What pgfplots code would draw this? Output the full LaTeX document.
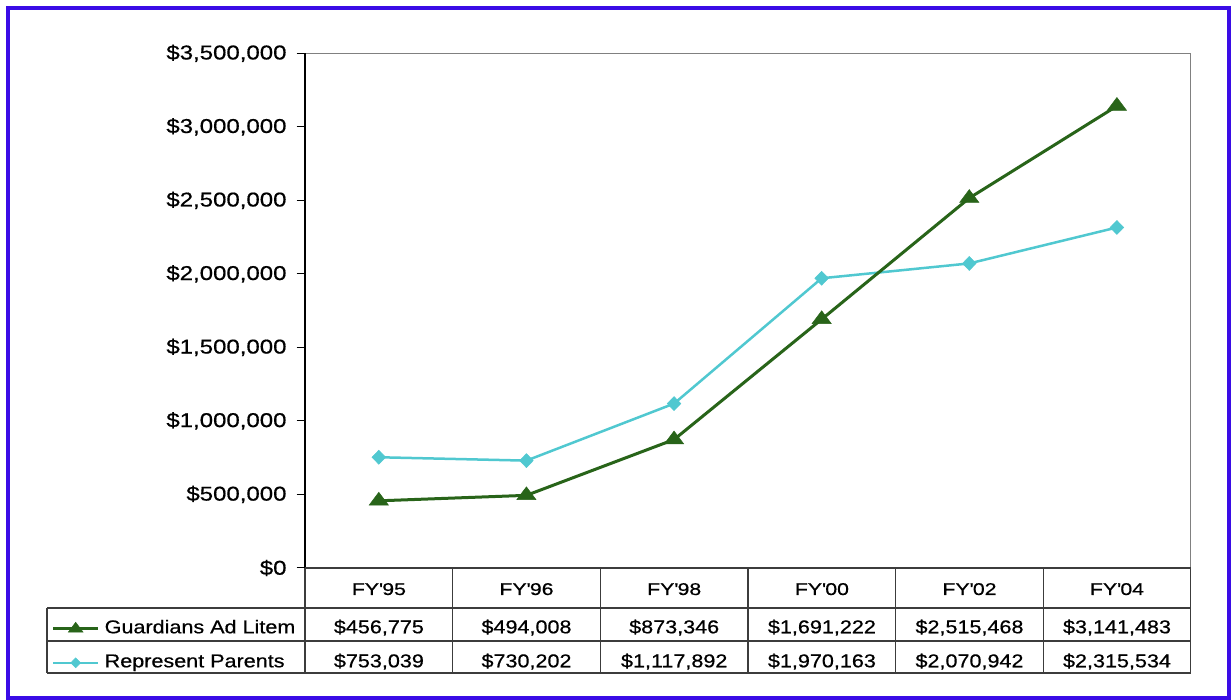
\documentclass[border=0pt]{standalone}
\usepackage{pgfplots}
\pgfplotsset{compat=1.18}
\usepackage{fontspec}
\setmainfont{Liberation Sans}
\newfontfamily\tickfont[FakeStretch=1.2,FakeBold=0.6]{Liberation Sans}
\newfontfamily\tabfont[FakeStretch=1.16,FakeBold=0.6]{Liberation Sans}
\newfontfamily\headfont[FakeStretch=1.25,FakeBold=0.6]{Liberation Sans}
\definecolor{gdark}{RGB}{40,100,25}
\definecolor{cyanl}{RGB}{80,200,208}
\definecolor{bordercol}{RGB}{58,12,230}
\definecolor{tabline}{RGB}{60,60,60}

\begin{document}
\begin{tikzpicture}[x=1pt,y=1pt]
\path[use as bounding box] (0,0) rectangle (1231,700);
\fill[white] (0,0) rectangle (1231,700);
\begin{axis}[
 at={(305pt,132pt)}, anchor=south west, scale only axis,
 width=885.7pt, height=514.7pt,
 xmin=-0.5, xmax=5.5, ymin=0, ymax=3500000,
 scaled y ticks=false,
 xtick=\empty,
 ytick={0,500000,1000000,1500000,2000000,2500000,3000000,3500000},
 yticklabels={{\$0},{\$500,000},{\$1,000,000},{\$1,500,000},{\$2,000,000},{\$2,500,000},{\$3,000,000},{\$3,500,000}},
 ytick pos=left,
 tick align=outside, major tick length=8.3pt,
 ytick style={black, line width=1pt},
 axis line style={draw=gray, line width=1.2pt},
 yticklabel style={font=\tickfont\fontsize{20}{24}\selectfont, inner sep=0pt, xshift=-10pt},
 clip=false,
 reverse legend,
 legend style={at={(-0.2860,-0.0997)}, anchor=north west, draw=none, fill=none,
   inner sep=0pt, outer sep=0pt, row sep=15pt, column sep=5pt,
   font=\tabfont\fontsize{18.6}{22}\selectfont,
   nodes={inner sep=0pt, outer sep=0pt, text height=14pt, text depth=5pt},
   cells={anchor=west}},
 legend image code/.code={\draw[mark repeat=2, mark phase=2, #1] plot coordinates {(0pt,0pt) (22.5pt,0pt) (45pt,0pt)};},
]
\addplot[cyanl, line width=2.5pt, mark=diamond*, mark size=7pt,
  mark options={xscale=1.3, solid, fill=cyanl, draw=cyanl, line width=0.5pt},
  legend image post style={mark size=5pt}]
  coordinates {(0,753039) (1,730202) (2,1117892) (3,1970163) (4,2070942) (5,2315534)};
\addlegendentry{Represent Parents}
\addplot[gdark, line width=3pt, mark=triangle*, mark size=8.5pt,
  mark options={xscale=1.3, solid, fill=gdark, draw=gdark, line width=0.5pt},
  legend image post style={mark size=6.5pt}]
  coordinates {(0,456775) (1,494008) (2,873346) (3,1691222) (4,2515468) (5,3141483)};
\addlegendentry{Guardians Ad Litem}
\draw[black, line width=1.5pt] (rel axis cs:0,0) -- (rel axis cs:0,1);
\end{axis}
% data table frame
\draw[tabline, line width=1.3pt] (305,132) -- (1190.7,132);
\draw[tabline, line width=1.3pt] (47,92) -- (1190.7,92);
\draw[tabline, line width=1.3pt] (47,59) -- (1190.7,59);
\draw[tabline, line width=1.3pt] (47,27) -- (1190.7,27);
\draw[tabline, line width=1.3pt] (47,27) -- (47,92);
\foreach \x in {305,452.6,600.3,748,895.7,1043.3,1190.7}
  \draw[tabline, line width=1.3pt] (\x,27) -- (\x,132);
% headers
\begin{scope}[every node/.style={anchor=base, inner sep=0pt, font=\headfont\fontsize{17}{20}\selectfont}]
\node at (378.9,105) {FY\textquotesingle95};
\node at (526.5,105) {FY\textquotesingle96};
\node at (674.2,105) {FY\textquotesingle98};
\node at (821.9,105) {FY\textquotesingle00};
\node at (969.5,105) {FY\textquotesingle02};
\node at (1117,105) {FY\textquotesingle04};
\end{scope}
\begin{scope}[every node/.style={anchor=base, inner sep=0pt, font=\tabfont\fontsize{18.6}{22}\selectfont}]
\node at (378.9,66.7) {\$456,775};
\node at (526.5,66.7) {\$494,008};
\node at (674.2,66.7) {\$873,346};
\node at (821.9,66.7) {\$1,691,222};
\node at (969.5,66.7) {\$2,515,468};
\node at (1117,66.7) {\$3,141,483};
\node at (378.9,32.7) {\$753,039};
\node at (526.5,32.7) {\$730,202};
\node at (674.2,32.7) {\$1,117,892};
\node at (821.9,32.7) {\$1,970,163};
\node at (969.5,32.7) {\$2,070,942};
\node at (1117,32.7) {\$2,315,534};
\end{scope}
\draw[bordercol, line width=4pt] (8,2) rectangle (1229,692);
\end{tikzpicture}
\end{document}
